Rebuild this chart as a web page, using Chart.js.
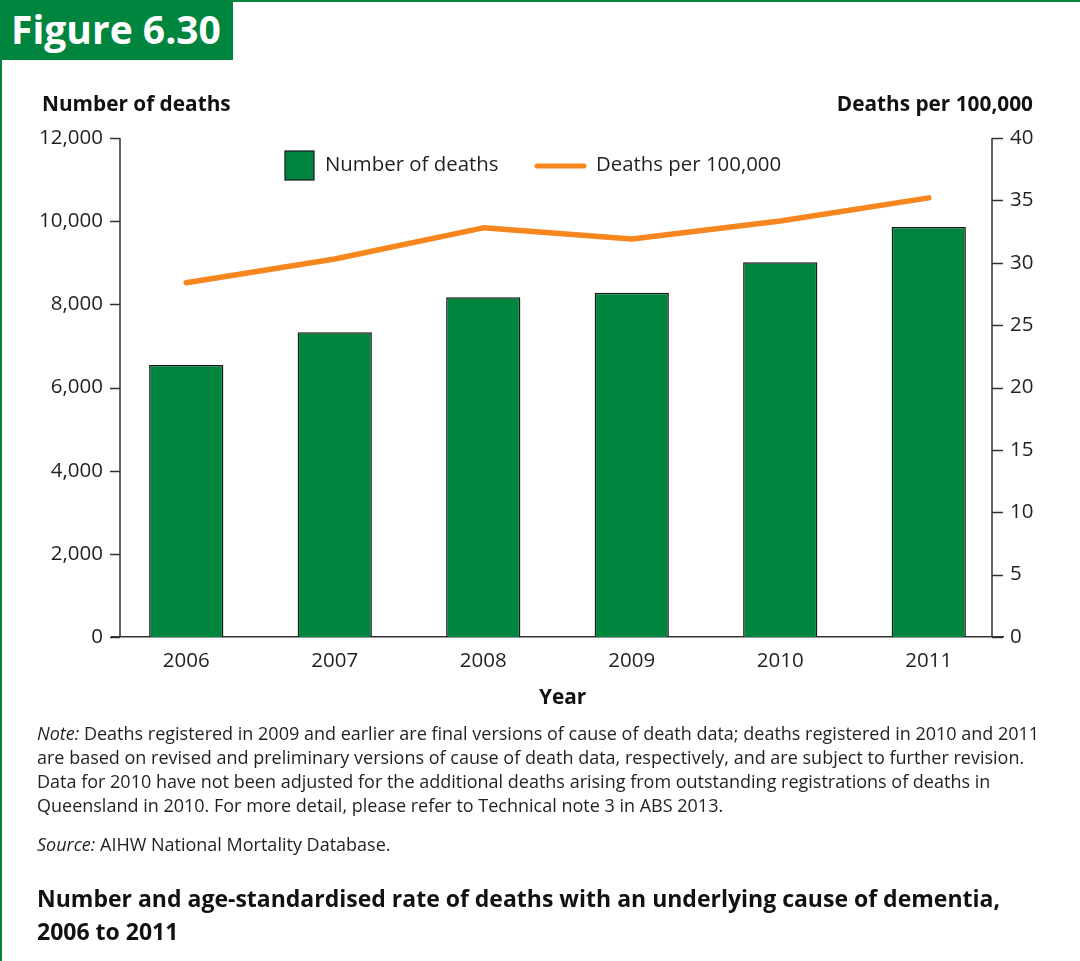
<!DOCTYPE html>
<html>
<head>
<meta charset="utf-8">
<script src="https://cdn.jsdelivr.net/npm/chart.js@4/dist/chart.umd.min.js"></script>
<style>
  html, body { margin: 0; padding: 0; background: #fff; }
  body { width: 1080px; height: 961px; position: relative; overflow: hidden;
         font-family: "Open Sans", "DejaVu Sans", sans-serif; color: #231f20; }
  #frame-left { position: absolute; left: 0; top: 0; width: 2px; height: 961px; background: #00853f; }
  #frame-top { position: absolute; left: 0; top: 0; width: 1080px; height: 2px; background: #00853f; }
  #fig-tag { position: absolute; left: 0; top: 0; width: 233px; height: 60px; background: #00853f;
             color: #fff; font-weight: 700; font-size: 39px; line-height: 58px; padding-left: 11px; box-sizing: border-box; }
  #chart-wrap { position: absolute; left: 0; top: 0; width: 1080px; height: 961px; }
  .axis-title { position: absolute; font-weight: 700; font-size: 20.8px; line-height: 24px; white-space: nowrap; color: #111; }
  #note { position: absolute; left: 37px; top: 721px; font-size: 18px; line-height: 24px; white-space: nowrap; }
  #source { position: absolute; left: 37px; top: 832px; font-size: 18px; line-height: 24px; white-space: nowrap; }
  #caption { position: absolute; left: 37px; top: 882px; font-size: 23px; line-height: 33px; font-weight: 700; white-space: nowrap; color: #111; }
  em { font-style: italic; }
</style>
</head>
<body>
<div id="chart-wrap"><canvas id="chart" width="1080" height="961"></canvas></div>
<div id="frame-left"></div>
<div id="frame-top"></div>
<div id="fig-tag">Figure 6.30</div>
<div class="axis-title" style="left:42px; top:91px;">Number of deaths</div>
<div class="axis-title" style="right:47px; top:91px;">Deaths per 100,000</div>
<div class="axis-title" style="left:539px; top:684px;">Year</div>
<div id="note"><em>Note:</em> Deaths registered in 2009 and earlier are final versions of cause of death data; deaths registered in 2010 and 2011<br>are based on revised and preliminary versions of cause of death data, respectively, and are subject to further revision.<br>Data for 2010 have not been adjusted for the additional deaths arising from outstanding registrations of deaths in<br>Queensland in 2010. For more detail, please refer to Technical note 3 in ABS 2013.</div>
<div id="source"><em>Source:</em> AIHW National Mortality Database.</div>
<div id="caption">Number and age-standardised rate of deaths with an underlying cause of dementia,<br>2006 to 2011</div>

<script>
// Dementia deaths, 2006–2011
const years = ['2006', '2007', '2008', '2009', '2010', '2011'];
const deathCounts = [6540, 7330, 8170, 8280, 9015, 9860];
const deathRates = [28.4, 30.3, 32.8, 31.9, 33.35, 35.2];
const countTicks = [0, 2000, 4000, 6000, 8000, 10000, 12000];
const rateTicks = [0, 5, 10, 15, 20, 25, 30, 35, 40];

const GREEN = '#00853f';
const ORANGE = '#f7861f';
const INK = '#231f20';
const tickFont = { family: '"Open Sans", sans-serif', size: 20.5 };

// Axis spines and outward tick marks, plus the legend row at the top of the plot
const axisFrame = {
  id: 'axisFrame',
  afterDatasetsDraw(chart) {
    const { ctx, chartArea: a, scales } = chart;
    const lx = a.left + 8;
    const rx = a.right - 11;
    ctx.save();
    ctx.strokeStyle = '#333';
    ctx.lineWidth = 1.5;
    ctx.beginPath();
    ctx.moveTo(lx, a.top); ctx.lineTo(lx, a.bottom);
    ctx.moveTo(rx, a.top); ctx.lineTo(rx, a.bottom);
    scales.yCount.ticks.forEach(t => {
      const y = Math.round(scales.yCount.getPixelForValue(t.value)) + 0.5;
      ctx.moveTo(lx - 10, y); ctx.lineTo(lx, y);
    });
    scales.yRate.ticks.forEach(t => {
      const y = Math.round(scales.yRate.getPixelForValue(t.value)) + 0.5;
      ctx.moveTo(rx, y); ctx.lineTo(rx + 11, y);
    });
    ctx.stroke();

    // legend
    const [barSet, lineSet] = chart.data.datasets;
    ctx.font = '20.4px "Open Sans", sans-serif';
    ctx.textBaseline = 'middle';
    ctx.fillStyle = barSet.backgroundColor;
    ctx.fillRect(285, 151, 29, 29);
    ctx.strokeStyle = '#1a1a1a';
    ctx.lineWidth = 1.2;
    ctx.strokeRect(285, 151, 29, 29);
    ctx.fillStyle = INK;
    ctx.fillText(barSet.label, 325, 165);

    ctx.strokeStyle = lineSet.borderColor;
    ctx.lineWidth = 5;
    ctx.lineCap = 'round';
    ctx.beginPath();
    ctx.moveTo(537, 166); ctx.lineTo(584, 166);
    ctx.stroke();
    ctx.fillStyle = INK;
    ctx.fillText(lineSet.label, 596, 165);
    ctx.restore();
  }
};

new Chart(document.getElementById('chart'), {
  data: {
    labels: years,
    datasets: [
      {
        type: 'bar',
        label: 'Number of deaths',
        data: deathCounts,
        yAxisID: 'yCount',
        backgroundColor: GREEN,
        borderColor: '#1a1a1a',
        borderWidth: 1.5,
        barPercentage: 1,
        categoryPercentage: 0.5,
        order: 2
      },
      {
        type: 'line',
        label: 'Deaths per 100,000',
        data: deathRates,
        yAxisID: 'yRate',
        borderColor: ORANGE,
        borderWidth: 5.5,
        borderCapStyle: 'round',
        borderJoinStyle: 'round',
        pointRadius: 0,
        tension: 0,
        order: 1
      }
    ]
  },
  options: {
    responsive: false,
    animation: false,
    devicePixelRatio: 1,
    layout: { padding: { left: 0, right: 0, top: 138, bottom: 284 } },
    plugins: { legend: { display: false }, tooltip: { enabled: false } },
    scales: {
      x: {
        grid: { display: false, drawTicks: false },
        border: { display: true, color: '#333', width: 1.5 },
        ticks: { color: INK, font: tickFont, padding: 12, maxRotation: 0 },
        afterFit: s => { s.height = 40; }
      },
      yCount: {
        position: 'left',
        min: 0, max: 12000,
        grid: { display: false, drawTicks: false },
        border: { display: false },
        afterBuildTicks: s => { s.ticks = countTicks.map(v => ({ value: v })); },
        ticks: { color: INK, font: tickFont, padding: 9, callback: v => v.toLocaleString('en-US') },
        afterFit: s => { s.width = 112; }
      },
      yRate: {
        position: 'right',
        min: 0, max: 40,
        grid: { display: false, drawTicks: false },
        border: { display: false },
        afterBuildTicks: s => { s.ticks = rateTicks.map(v => ({ value: v })); },
        ticks: { color: INK, font: tickFont, padding: 7 },
        afterFit: s => { s.width = 77; }
      }
    }
  },
  plugins: [axisFrame]
});
</script>
</body>
</html>
